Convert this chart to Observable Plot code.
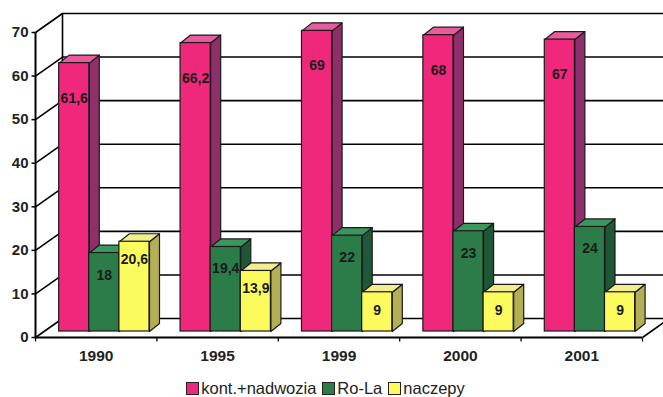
<!DOCTYPE html>
<html><head><meta charset="utf-8">
<script src="https://cdn.jsdelivr.net/npm/d3@7"></script>
<script src="https://cdn.jsdelivr.net/npm/@observablehq/plot@0.6"></script>
<style>
body{margin:0;background:#fff;font-family:"Liberation Sans",Arial,sans-serif;}
#chart svg{display:block;overflow:visible;}
#legend{width:663px;height:25px;padding-top:4px;display:flex;justify-content:center;align-items:center;font-size:16.5px;color:#222;margin-left:-6px;}
#legend span.it{display:inline-flex;align-items:center;margin:0 3px;}
#legend span.sw{display:inline-block;width:11px;height:11px;border:1.5px solid #222;margin-right:2px;}
</style></head><body><div id="chart"></div><div id="legend"></div>
<script>
const years = ["1990", "1995", "1999", "2000", "2001"];
const seriesNames = ["kont.+nadwozia", "Ro-La", "naczepy"];
const kont = [61.6, 66.2, 69, 68, 67];
const rola = [18, 19.4, 22, 23, 24];
const naczepy = [20.6, 13.9, 9, 9, 9];
const yTicks = [0, 10, 20, 30, 40, 50, 60, 70];

const values = [kont, rola, naczepy];
const colors = [
  {front: "#F0287C", side: "#8E2F6C", top: "#E85C9C"},
  {front: "#2C7C4A", side: "#1E5836", top: "#3D9660"},
  {front: "#FBFB5E", side: "#B4AE55", top: "#F2EE8C"}
];
const labelDy = [35, 22, 18];

const W = 663, H = 372;
const X0 = 35, X1 = 642, Y0 = 337, Y1 = 32;
const ppx = (X1 - X0) / years.length, ppy = (Y0 - Y1) / 70;
const px = p => p / ppx, py = p => p / ppy;
const wX = px(27), wY = py(19);       // wall depth
const sX = px(8.5), sY = py(6);       // bar shift into depth
const dX = px(10), dY = py(8);        // bar depth
const bw = 0.248, g0 = 0.125;

const marks = [];
// back wall grid
marks.push(Plot.ruleY(yTicks, {y: t => t + wY, x1: wX, x2: px(W - X0 + 5), stroke: "#000", strokeWidth: 1.6}));
marks.push(Plot.ruleX([wX], {y1: wY, y2: 70 + wY, stroke: "#000", strokeWidth: 1.6}));
marks.push(Plot.link(yTicks, {x1: 0, y1: t => t, x2: wX, y2: t => t + wY, stroke: "#000", strokeWidth: 1.6}));
marks.push(Plot.link([0], {x1: years.length, y1: 0, x2: years.length + wX, y2: wY, stroke: "#000", strokeWidth: 1.6}));

values.forEach((vals, s) => {
  const bars = vals.map((v, i) => {
    const xl = i + g0 + s * bw + sX, xr = xl + bw;
    return {i, v, xl, xr, yb: sY, yt: v + sY};
  });
  const side = bars.flatMap(b => [[b.xr, b.yb], [b.xr, b.yt], [b.xr + dX, b.yt + dY], [b.xr + dX, b.yb + dY], [b.xr, b.yb]].map(p => ({id: b.i, x: p[0], y: p[1]})));
  const top = bars.flatMap(b => [[b.xl, b.yt], [b.xr, b.yt], [b.xr + dX, b.yt + dY], [b.xl + dX, b.yt + dY], [b.xl, b.yt]].map(p => ({id: b.i, x: p[0], y: p[1]})));
  marks.push(Plot.line(side, {x: "x", y: "y", z: "id", fill: colors[s].side, stroke: "#1a1a1a", strokeWidth: 1.2, curve: "linear"}));
  marks.push(Plot.line(top, {x: "x", y: "y", z: "id", fill: colors[s].top, stroke: "#1a1a1a", strokeWidth: 1.2, curve: "linear"}));
  marks.push(Plot.rect(bars, {x1: "xl", x2: "xr", y1: "yb", y2: "yt", fill: colors[s].front, stroke: "#1a1a1a", strokeWidth: 1.2}));
});
values.forEach((vals, s) => {
  marks.push(Plot.text(vals.map((v, i) => ({i, v})), {
    x: d => d.i + g0 + (s + 0.5) * bw + sX, y: d => d.v + sY, dy: labelDy[s],
    text: d => String(d.v).replace(".", ","),
    fill: "#1a1a1a", fontWeight: "bold", fontSize: 14
  }));
});
// front axes
marks.push(Plot.ruleX([0], {y1: 0, y2: 70, stroke: "#000", strokeWidth: 2}));
marks.push(Plot.ruleY([0], {x1: 0, x2: years.length, stroke: "#000", strokeWidth: 2}));
marks.push(Plot.link(yTicks, {x1: 0, y1: t => t, x2: px(-4), y2: t => t, stroke: "#000", strokeWidth: 1.5}));
marks.push(Plot.link(d3.range(years.length + 1), {x1: d => d, y1: 0, x2: d => d, y2: py(-4), stroke: "#000", strokeWidth: 1.3}));
marks.push(Plot.text(yTicks, {x: 0, y: t => t, dx: -7, textAnchor: "end", text: t => String(t), fill: "#222", fontWeight: "bold", fontSize: 15}));
marks.push(Plot.text(years, {x: (d, i) => i + 0.5, y: 0, dy: 19, text: d => d, fill: "#222", fontWeight: "bold", fontSize: 15.5}));

const chart = Plot.plot({
  width: W, height: H,
  marginLeft: X0, marginRight: W - X1, marginTop: Y1, marginBottom: H - Y0,
  x: {domain: [0, years.length], range: [X0, X1], axis: null},
  y: {domain: [0, 70], range: [Y0, Y1], axis: null},
  style: {fontFamily: "'Liberation Sans', Arial, sans-serif", background: "#fff", overflow: "visible"},
  marks
});
document.getElementById("chart").appendChild(chart);

const leg = document.getElementById("legend");
seriesNames.forEach((n, s) => {
  const it = document.createElement("span"); it.className = "it";
  const sw = document.createElement("span"); sw.className = "sw"; sw.style.background = colors[s].front;
  it.appendChild(sw); it.appendChild(document.createTextNode(n));
  leg.appendChild(it);
});
</script></body></html>
